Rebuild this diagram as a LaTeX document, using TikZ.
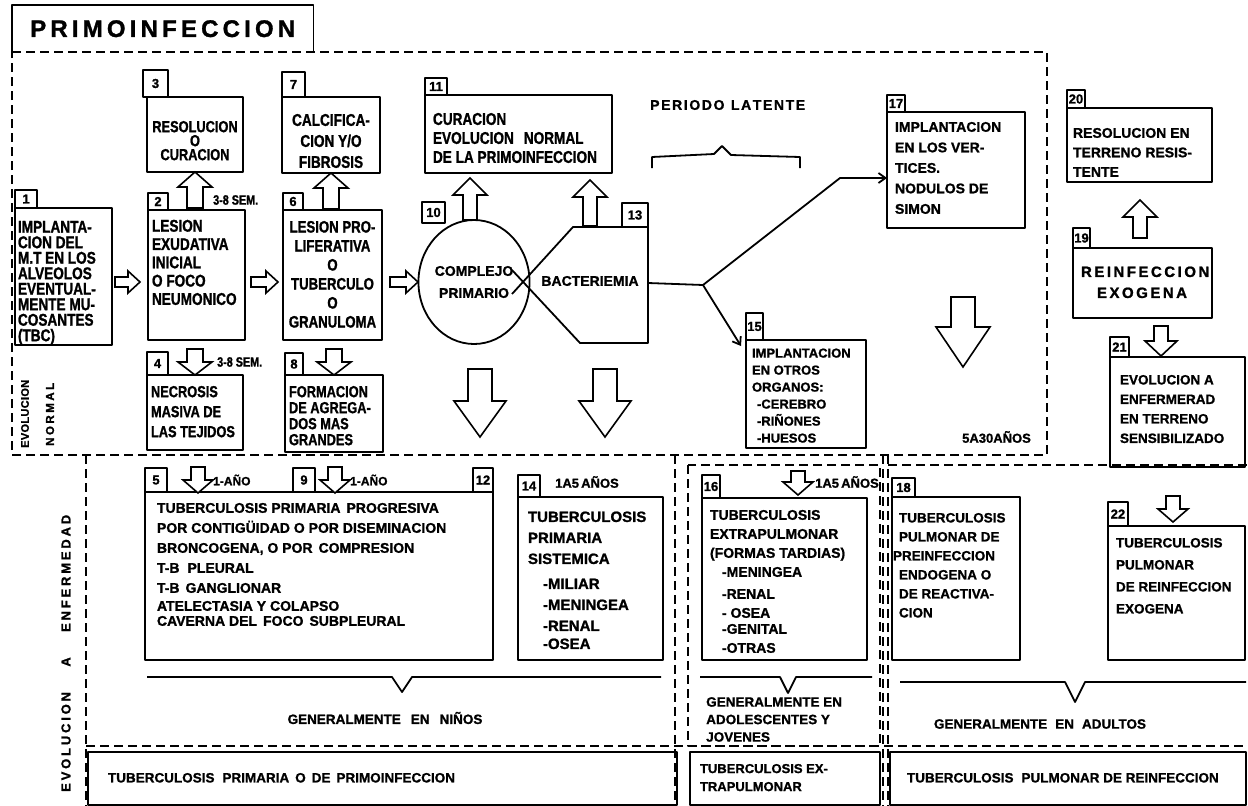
\documentclass[tikz,border=0pt]{standalone}
\usepackage{fontspec}
\setmainfont{Liberation Sans}
\newfontfamily\hw{Liberation Sans}[BoldFeatures={FakeBold=1.2}]
\newfontfamily\hn{Liberation Sans}[FakeStretch=0.8,BoldFeatures={FakeBold=1.2}]
\usetikzlibrary{shapes.geometric,arrows.meta,calc}
\newcommand\fs[2]{\fontsize{#1}{#2}\selectfont}
\newcommand\spr[2]{\makebox[#1][s]{#2}}
\newcommand\barrow[6]{\begin{scope}[shift={(#1)},rotate=#2]\draw[blk] (0,0) -- (-#4,-#6) -- (-#5,-#6) -- (-#5,-#3) -- (#5,-#3) -- (#5,-#6) -- (#4,-#6) -- cycle;\end{scope}}
\newcommand\mkbox[8]{\node[box,inner xsep=#6pt] (#1) at (#2,#3) {\parbox[c][\dimexpr #5pt-#3pt\relax][t]{\dimexpr #4pt-#2pt-#6pt-#6pt\relax}{\vspace*{#7pt}#8}};}
\newcommand\mktab[6]{\node[tab,minimum width={#4pt-#2pt},minimum height={#5pt-#3pt}] (#1) at (#2,#3) {#6};}
\tikzset{
 box/.style={draw,line width=1.8pt,anchor=north west,inner ysep=0pt,outer sep=0pt,font=\bfseries},
 tab/.style={draw,line width=1.8pt,anchor=north west,inner sep=0pt,outer sep=0pt,font=\hw\bfseries\fs{13}{13}},
 blk/.style={draw,line width=1.6pt,fill=white,line join=miter},
 dreg/.style={line width=1.5pt,dash pattern=on 9pt off 5pt},
 ln/.style={line width=1.8pt},
 arr/.style={ln,-{Straight Barb[length=7pt,width=10pt]}},
 lbl/.style={inner sep=0pt,font=\hw\bfseries},
}
\begin{document}
\begin{tikzpicture}[x=1pt,y=-1pt,line join=round]
\useasboundingbox (0,0) rectangle (1248,806);
% title
\node[anchor=north west,minimum width=301pt,minimum height=47pt,inner sep=0pt,font=\hw\bfseries\fs{24}{24}] (title) at (12,5) {\spr{265pt}{P\hfil R\hfil I\hfil M\hfil O\hfil I\hfil N\hfil F\hfil E\hfil C\hfil C\hfil I\hfil O\hfil N}};
\draw[ln] (title.south west) |- (title.north east) -- (title.south east);
% regions
\draw[dreg] (12,52) -- (1047,52) -- (1047,455) -- (12,455) -- cycle;
\draw[dreg] (86,455) -- (86,806);
\draw[dreg] (675,455) -- (675,806);
\draw[dreg] (688,465) rectangle (880,746);
\draw[dreg] (883,455) -- (883,806);
\draw[dreg] (888,455) -- (888,806);
\draw[dreg] (888,465) -- (1248,465);
\draw[dreg] (86,746) -- (1248,746);
% side labels
\node[lbl,rotate=90,anchor=west,font=\hw\bfseries\fs{11}{11}] (en1) at (25,448) {\spr{68pt}{E\hfil V\hfil O\hfil L\hfil U\hfil C\hfil I\hfil O\hfil N}};
\node[lbl,rotate=90,anchor=west,font=\hw\bfseries\fs{11.5}{11.5}] (en2) at (50,446) {\spr{63pt}{N\hfil O\hfil R\hfil M\hfil A\hfil L}};
\node[lbl,rotate=90,anchor=west,font=\hw\bfseries\fs{13}{13}] (ee) at (66,792) {\spr{277pt}{E\hfil V\hfil O\hfil L\hfil U\hfil C\hfil I\hfil O\hfil N\hspace{0pt plus 9fil}A\hspace{0pt plus 9fil}E\hfil N\hfil F\hfil E\hfil R\hfil M\hfil E\hfil D\hfil A\hfil D}};
% upper boxes
\mktab{t1}{15}{190}{37}{208}{1}
\mkbox{b1}{15}{208}{112}{345}{3}{13}{\hn\fs{17}{15.5}\raggedright IMPLANTA-\\CION DEL\\M.T EN LOS\\ALVEOLOS\\EVENTUAL-\\MENTE MU-\\COSANTES\\(TBC)}
\mktab{t2}{148}{193}{168}{210}{2}
\mkbox{b2}{148}{210}{245}{340}{4}{9.8}{\hn\fs{17}{18.3}\raggedright LESION\\EXUDATIVA\\INICIAL\\O FOCO\\NEUMONICO}
\mktab{t3}{143}{70}{168}{97}{3}
\mkbox{b3}{147}{97}{243}{172}{4}{24}{\hn\fs{16}{14}\centering RESOLUCION\\O\\CURACION}
\mktab{t4}{147}{352}{168}{375}{4}
\mkbox{b4}{147}{375}{243}{450}{4}{11}{\hn\fs{16}{20}\raggedright NECROSIS\\MASIVA DE\\LAS TEJIDOS}
\mktab{t6}{283}{193}{303}{210}{6}
\mkbox{b6}{283}{210}{382}{340}{4}{11}{\hn\fs{16.5}{19}\centering LESION PRO-\\LIFERATIVA\\O\\TUBERCULO\\O\\GRANULOMA}
\mktab{t7}{282}{72}{305}{97}{7}
\mkbox{b7}{282}{97}{380}{173}{4}{17}{\hn\fs{17}{21}\centering CALCIFICA-\\CION Y/O\\FIBROSIS}
\mktab{t8}{285}{353}{303}{375}{8}
\mkbox{b8}{285}{375}{383}{452}{4}{11}{\hn\fs{16}{16}\raggedright FORMACION\\DE AGREGA-\\DOS MAS\\GRANDES}
\node[lbl,anchor=west,font=\hn\bfseries\fs{13.5}{13.5}] (s38a) at (213,200) {3-8 SEM.};
\node[lbl,anchor=west,font=\hn\bfseries\fs{13.5}{13.5}] (s38b) at (217,362) {3-8 SEM.};
% complejo primario
\mktab{t10}{422}{202}{445}{223}{10}
\node[draw,ln,ellipse,minimum width=104pt,minimum height=124pt,inner sep=0pt,align=center,font=\hw\bfseries\fs{14}{22}] (c10) at (474,282) {COMPLEJO\\PRIMARIO};
\mktab{t11}{425}{78}{447}{95}{11}
\mkbox{b11}{425}{95}{612}{173}{8}{18}{\hn\fs{17}{19}\raggedright CURACION\\EVOLUCION\hspace{10pt}NORMAL\\DE LA PRIMOINFECCION}
% bacteriemia
\draw[ln] (512,294) -- (573,227) -- (648,227) -- (648,343) -- (580,343) -- (512,270);
\mktab{t13}{622}{203}{648}{227}{13}
\node[lbl,font=\hw\bfseries\fs{14}{14}] (bact) at (590,281) {BACTERIEMIA};
% periodo latente
\node[lbl,anchor=west,font=\hw\bfseries\fs{14}{14}] (plat) at (650,105) {\spr{155pt}{P\hfil E\hfil R\hfil I\hfil O\hfil D\hfil O\hspace{0pt plus 4fil}L\hfil A\hfil T\hfil E\hfil N\hfil T\hfil E}};
\draw[ln] (652,168) -- (652,157) -- (714,154) -- (722,146) -- (731,155) -- (800,157) -- (800,168);
% box 17, 15
\mktab{t17}{887}{95}{905}{112}{17}
\mkbox{b17}{887}{112}{1025}{228}{8}{10}{\hw\fs{14}{20.5}\raggedright IMPLANTACION\\EN LOS VER-\\TICES.\\NODULOS DE\\SIMON}
\mktab{t15}{746}{313}{763}{340}{15}
\mkbox{b15}{746}{340}{866}{448}{6}{8.5}{\hw\fs{13}{17}\raggedright IMPLANTACION\\EN OTROS\\ORGANOS:\\\hspace*{5pt}-CEREBRO\\\hspace*{5pt}-RIÑONES\\\hspace*{5pt}-HUESOS}
\coordinate (bR) at (648,283);
\coordinate (br) at (703,285);
\coordinate (k17) at (840,178);
\draw[ln] (bR) -- (br);
\draw[arr] (br) -- (k17) -- (k17 -| b17.west);
\draw[arr] (br) -- ($(b15.north west)+(-5,6)$);
\node[lbl,anchor=west,font=\hw\bfseries\fs{13}{13}] (yrs) at (962,437) {5A30AÑOS};
% right column
\mktab{t20}{1067}{90}{1085}{108}{20}
\mkbox{b20}{1067}{108}{1212}{182}{6}{20}{\hw\fs{14}{19.5}\raggedright RESOLUCION EN\\TERRENO RESIS-\\TENTE}
\mktab{t19}{1073}{228}{1090}{248}{19}
\mkbox{b19}{1073}{248}{1212}{318}{8}{18.5}{\hw\fs{15}{21}\raggedright R\,E\,I\,N\,F\,E\,C\,C\,I\,O\,N\\\hspace*{16pt}E\,X\,O\,G\,E\,N\,A}
\mktab{t21}{1110}{337}{1129}{357}{21}
\mkbox{b21}{1110}{357}{1245}{467}{10}{18}{\hw\fs{13.5}{19.5}\raggedright EVOLUCION A\\ENFERMERAD\\EN TERRENO\\SENSIBILIZADO}
% lower boxes
\mktab{t5}{145}{468}{167}{492}{5}
\mktab{t9}{293}{468}{315}{492}{9}
\mktab{t12}{473}{468}{493}{492}{12}
\mkbox{b5}{145}{492}{493}{660}{12}{11}{\hw\fs{14}{20}\raggedright TUBERCULOSIS PRIMARIA\hspace{6pt}PROGRESIVA\\POR CONTIGÜIDAD O POR DISEMINACION\\BRONCOGENA, O POR\hspace{6pt}COMPRESION\\T-B\hspace{8pt}PLEURAL\\T-B\hspace{6pt}GANGLIONAR\\[-2pt]ATELECTASIA Y COLAPSO\\[-5pt]CAVERNA DEL\hspace{6pt}FOCO\hspace{6pt}SUBPLEURAL}
\node[lbl,anchor=west,font=\hw\bfseries\fs{12}{12}] (a1) at (213,480) {1-AÑO};
\node[lbl,anchor=west,font=\hw\bfseries\fs{12}{12}] (a2) at (350,480) {1-AÑO};
\mktab{t14}{518}{475}{540}{497}{14}
\node[lbl,anchor=west,font=\hw\bfseries\fs{13}{13}] (a3) at (555,482) {1A5\,AÑOS};
\mkbox{b14}{518}{497}{663}{660}{10}{14.5}{\hw\fs{15}{21}\raggedright TUBERCULOSIS\\PRIMARIA\\SISTEMICA\\[4pt]\hspace*{15pt}-MILIAR\\\hspace*{15pt}-MENINGEA\\\hspace*{15pt}-RENAL\\[-3pt]\hspace*{15pt}-OSEA}
\mktab{t16}{702}{475}{720}{498}{16}
\node[lbl,anchor=west,font=\hw\bfseries\fs{13}{13}] (a4) at (815,482) {1A5\,AÑOS};
\mkbox{b16}{702}{498}{867}{660}{8}{12}{\hw\fs{14}{19}\raggedright TUBERCULOSIS\\EXTRAPULMONAR\\(FORMAS\hspace{4pt}TARDIAS)\\\hspace*{12pt}-MENINGEA\\[3pt]\hspace*{12pt}-RENAL\\\hspace*{12pt}- OSEA\\[-3pt]\hspace*{12pt}-GENITAL\\\hspace*{12pt}-OTRAS}
\mktab{t18}{892}{478}{915}{497}{18}
\mkbox{b18}{892}{497}{1020}{660}{7}{16}{\hw\fs{13.5}{19}\raggedright TUBERCULOSIS\\PULMONAR DE\\\hspace*{-6pt}PREINFECCION\\ENDOGENA O\\DE REACTIVA-\\CION}
\mktab{t22}{1108}{502}{1128}{526}{22}
\mkbox{b22}{1108}{526}{1245}{660}{8}{12}{\hw\fs{13.5}{22}\raggedright TUBERCULOSIS\\PULMONAR\\DE REINFECCION\\EXOGENA}
% braces and group labels
\draw[ln] (147,677) -- (392,677) -- (402,692) -- (412,677) -- (661,677);
\draw[ln] (700,677) -- (780,677) -- (788,693) -- (796,677) -- (872,677);
\draw[ln] (900,682) -- (1065,682) -- (1075,702) -- (1085,682) -- (1246,682);
\node[lbl,font=\hw\bfseries\fs{13.5}{13.5}] (gn) at (385,718) {GENERALMENTE\hspace{10pt}EN\hspace{10pt}NIÑOS};
\node[lbl,anchor=north west,align=left,font=\hw\bfseries\fs{13.5}{17.5}] (ga) at (706,697) {GENERALMENTE EN\\ADOLESCENTES Y\\JOVENES};
\node[lbl,font=\hw\bfseries\fs{13.5}{13.5}] (gad) at (1040,724) {GENERALMENTE\hspace{8pt}EN\hspace{8pt}ADULTOS};
% bottom row
\mkbox{bb1}{88}{752}{677}{805}{20}{21}{\hw\fs{13.5}{13.5}\raggedright TUBERCULOSIS\hspace{8pt}PRIMARIA\hspace{6pt}O\hspace{6pt}DE\hspace{6pt}PRIMOINFECCION}
\mkbox{bb2}{690}{752}{880}{805}{10}{12}{\hw\fs{13}{18}\raggedright TUBERCULOSIS EX-\\TRAPULMONAR}
\mkbox{bb3}{890}{752}{1246}{805}{17}{21}{\hw\fs{13.5}{13.5}\raggedright TUBERCULOSIS\hspace{8pt}PULMONAR DE REINFECCION}
% block arrows
\barrow{140,282}{90}{25}{11}{5}{12}
\barrow{278,282}{90}{27}{11}{5}{12}
\barrow{418,282}{90}{28}{11}{5}{12}
\barrow{b3.south}{180}{36}{17}{8}{15}
\barrow{b7.south}{180}{36}{17}{8}{15}
\barrow{b4.north}{0}{26}{17}{8}{13}
\barrow{b8.north}{0}{26}{17}{8}{13}
\barrow{470,178}{180}{42}{17}{7}{17}
\barrow{590,180}{180}{46}{17}{7}{17}
\barrow{480,437}{0}{68}{26}{12}{36}
\barrow{605,437}{0}{68}{26}{12}{36}
\barrow{963,367}{0}{70}{27}{12}{40}
\barrow{1140,200}{180}{38}{17}{7}{17}
\barrow{1161,356}{0}{30}{16}{7}{15}
\barrow{198,493}{0}{26}{15}{7}{13}
\barrow{335,493}{0}{26}{15}{7}{13}
\barrow{798,495}{0}{24}{15}{7}{13}
\barrow{1173,522}{0}{26}{15}{7}{13}
\end{tikzpicture}
\end{document}
